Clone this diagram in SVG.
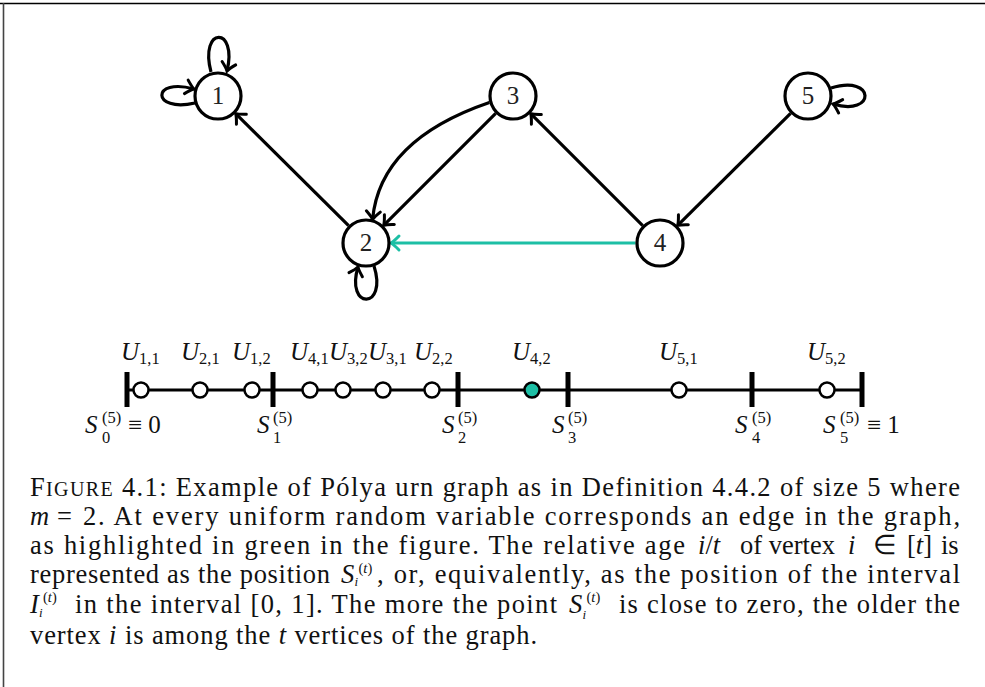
<svg xmlns="http://www.w3.org/2000/svg" width="985" height="687" viewBox="0 0 985 687">
<style>
text{font-family:"Liberation Serif","Times New Roman",serif;fill:#111}
.nd circle{fill:#fff;stroke:#000;stroke-width:3.2}
.nd text{font-size:25px;text-anchor:middle;fill:#222}
.e{fill:none;stroke:#000;stroke-width:3.2;marker-end:url(#arr)}
.g{fill:none;stroke:#1dbfa5;stroke-width:3.2;marker-end:url(#arrg)}
.it{font-style:italic}
.lb{font-size:25px}
.sm{font-size:16.5px}
.cap{font-size:26.5px}
.cs{font-size:14.5px}
.ci{font-size:13px;font-style:italic}
.tick{fill:#000}
.pt{fill:#fff;stroke:#000;stroke-width:2.5}
</style>
<defs>
<marker id="arr" markerUnits="userSpaceOnUse" viewBox="-10 -10 12 20" refX="0" refY="0" markerWidth="12" markerHeight="20" orient="auto" overflow="visible">
<path d="M-8,-7 Q-2.8,-1.6 0,0 Q-2.8,1.6 -8,7" fill="none" stroke="#000" stroke-width="3" stroke-linecap="round"/>
</marker>
<marker id="arrg" markerUnits="userSpaceOnUse" viewBox="-10 -10 12 20" refX="0" refY="0" markerWidth="12" markerHeight="20" orient="auto" overflow="visible">
<path d="M-8,-7 Q-2.8,-1.6 0,0 Q-2.8,1.6 -8,7" fill="none" stroke="#1dbfa5" stroke-width="3" stroke-linecap="round"/>
</marker>
</defs>
<rect width="985" height="687" fill="#fff"/>
<line x1="0" y1="3.5" x2="985" y2="3.5" stroke="#000" stroke-width="1.6"/>
<line x1="3.5" y1="3" x2="3.5" y2="687" stroke="#444" stroke-width="1.6"/>

<g id="connectors">
<path class="e" d="M348.6,225.7 L235.7,113.6"/>
<path class="e" d="M495.7,113.3 L383.7,225.3"/>
<path class="e" d="M489.4,102.6 Q380,140 372.6,219.4"/>
<path class="e" d="M642.7,225.7 L530.7,113.7"/>
<path class="e" d="M790.6,113.3 L677.7,225.4"/>
<path class="g" d="M635.5,243 L391,243"/>
<path class="e" d="M211,72 C199,26 238,26 227,71"/>
<path class="e" d="M195,103 C151,113 151,77 194,89"/>
<path class="e" d="M374,266 C388,310 345,310 358,267"/>
<path class="e" d="M831,88 C876,74 876,117 833,104"/>
</g>

<g id="node1" class="nd"><circle cx="218" cy="96" r="23"/><text x="218" y="104">1</text></g>
<g id="node2" class="nd"><circle cx="366" cy="243" r="23"/><text x="366" y="251">2</text></g>
<g id="node3" class="nd"><circle cx="513" cy="96" r="23"/><text x="513" y="104">3</text></g>
<g id="node4" class="nd"><circle cx="660" cy="243" r="23"/><text x="660" y="251">4</text></g>
<g id="node5" class="nd"><circle cx="808" cy="96" r="23"/><text x="808" y="104">5</text></g>

<g id="interval">
<line x1="127" y1="390" x2="862" y2="390" stroke="#000" stroke-width="3"/>
<rect class="tick" x="124.5" y="372" width="5" height="35"/>
<rect class="tick" x="270.5" y="372" width="5" height="35"/>
<rect class="tick" x="455.5" y="372" width="5" height="35"/>
<rect class="tick" x="565.5" y="372" width="5" height="35"/>
<rect class="tick" x="749.5" y="372" width="5" height="35"/>
<rect class="tick" x="859.5" y="372" width="5" height="35"/>
<circle class="pt" cx="141" cy="390" r="7.5"/>
<circle class="pt" cx="200" cy="390" r="7.5"/>
<circle class="pt" cx="252" cy="390" r="7.5"/>
<circle class="pt" cx="310" cy="390" r="7.5"/>
<circle class="pt" cx="343" cy="390" r="7.5"/>
<circle class="pt" cx="383" cy="390" r="7.5"/>
<circle class="pt" cx="432" cy="390" r="7.5"/>
<circle class="pt" cx="532" cy="390" r="7.5" style="fill:#1dbfa5"/>
<circle class="pt" cx="679" cy="390" r="7.5"/>
<circle class="pt" cx="827" cy="390" r="7.5"/>
</g>

<g id="u-labels" class="lb">
<text x="121" y="360"><tspan class="it">U</tspan><tspan class="sm" dy="4">1,1</tspan></text>
<text x="181" y="360"><tspan class="it">U</tspan><tspan class="sm" dy="4">2,1</tspan></text>
<text x="232" y="360"><tspan class="it">U</tspan><tspan class="sm" dy="4">1,2</tspan></text>
<text x="290" y="360"><tspan class="it">U</tspan><tspan class="sm" dy="4">4,1</tspan></text>
<text x="329" y="360"><tspan class="it">U</tspan><tspan class="sm" dy="4">3,2</tspan></text>
<text x="368" y="360"><tspan class="it">U</tspan><tspan class="sm" dy="4">3,1</tspan></text>
<text x="414" y="360"><tspan class="it">U</tspan><tspan class="sm" dy="4">2,2</tspan></text>
<text x="512" y="360"><tspan class="it">U</tspan><tspan class="sm" dy="4">4,2</tspan></text>
<text x="659" y="360"><tspan class="it">U</tspan><tspan class="sm" dy="4">5,1</tspan></text>
<text x="807" y="360"><tspan class="it">U</tspan><tspan class="sm" dy="4">5,2</tspan></text>
</g>

<g id="s-labels" class="lb">
<text class="it" x="85" y="433">S</text><text class="sm" x="102" y="423">(5)</text><text class="sm" x="102" y="443">0</text><text x="128" y="433">≡ 0</text>
<text class="it" x="257" y="433">S</text><text class="sm" x="273" y="423">(5)</text><text class="sm" x="273" y="443">1</text>
<text class="it" x="442" y="433">S</text><text class="sm" x="458" y="423">(5)</text><text class="sm" x="458" y="443">2</text>
<text class="it" x="552" y="433">S</text><text class="sm" x="568" y="423">(5)</text><text class="sm" x="568" y="443">3</text>
<text class="it" x="735" y="433">S</text><text class="sm" x="752" y="423">(5)</text><text class="sm" x="752" y="443">4</text>
<text class="it" x="823" y="433">S</text><text class="sm" x="840" y="423">(5)</text><text class="sm" x="840" y="443">5</text><text x="867" y="433">≡ 1</text>
</g>

<g id="caption" class="cap">
<text x="30" y="496" textLength="930" lengthAdjust="spacing">F<tspan font-size="20">IGURE</tspan> 4.1: Example of Pólya urn graph as in Definition 4.4.2 of size 5 where</text>
<text class="it" x="30" y="525">m</text><text x="57" y="525">=</text>
<text x="83" y="525" textLength="877" lengthAdjust="spacing">2. At every uniform random variable corresponds an edge in the graph,</text>
<text x="30" y="554" textLength="655" lengthAdjust="spacing">as highlighted in green in the figure. The relative age</text>
<text x="698" y="554"><tspan class="it">i</tspan>/<tspan class="it">t</tspan></text>
<text x="740" y="554" textLength="95" lengthAdjust="spacing">of vertex</text>
<text class="it" x="848" y="554">i</text><text x="873" y="554">∈</text><text x="907" y="554">[<tspan class="it">t</tspan>]</text><text x="941" y="554">is</text>
<text x="30" y="583" textLength="300" lengthAdjust="spacing">represented as the position</text>
<text class="it" x="341" y="583">S</text><text class="ci" x="354.5" y="586">i</text><text class="cs" x="358.5" y="573">(<tspan class="it">t</tspan>)</text>
<text x="377" y="583" textLength="583" lengthAdjust="spacing">, or, equivalently, as the position of the interval</text>
<text class="it" x="30" y="613">I</text><text class="ci" x="39" y="617">i</text><text class="cs" x="43" y="602">(<tspan class="it">t</tspan>)</text>
<text x="75" y="613" textLength="482" lengthAdjust="spacing">in the interval [0, 1]. The more the point</text>
<text class="it" x="569" y="613">S</text><text class="ci" x="582.5" y="619">i</text><text class="cs" x="586.5" y="602">(<tspan class="it">t</tspan>)</text>
<text x="619" y="613" textLength="341" lengthAdjust="spacing">is close to zero, the older the</text>
<text x="30" y="643.5" textLength="507" lengthAdjust="spacing">vertex <tspan class="it">i</tspan> is among the <tspan class="it">t</tspan> vertices of the graph.</text>
</g>
</svg>
